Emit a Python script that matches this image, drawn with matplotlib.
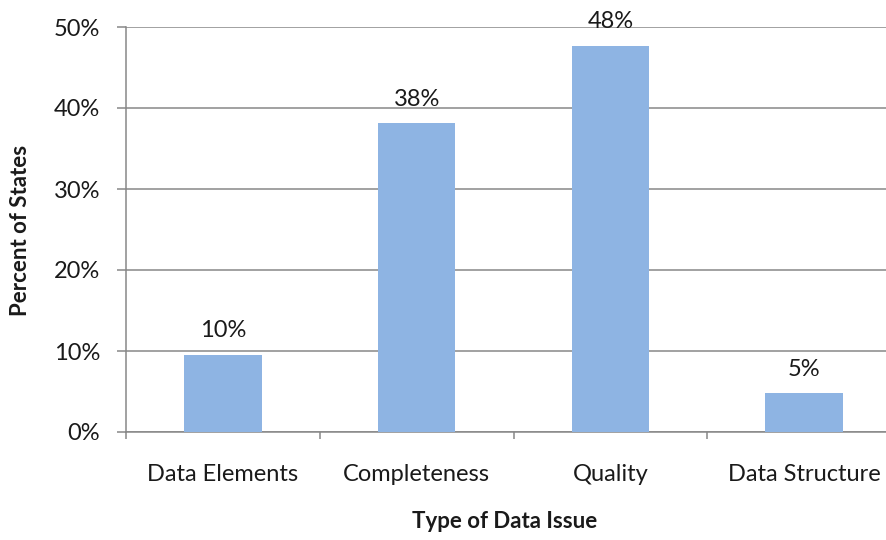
import matplotlib.pyplot as plt
from matplotlib.ticker import PercentFormatter

# states reporting each type of data issue (21 states total)
issues = ['Data Elements', 'Completeness', 'Quality', 'Data Structure']
states = [2, 8, 10, 1]
total_states = 21

pct = [s / total_states * 100 for s in states]

plt.rcParams['font.family'] = ['Lato', 'DejaVu Sans']
TXT = '#1a1a1a'
GRID = '#878787'

fig = plt.figure(figsize=(8.86, 5.4), dpi=100)
ax = fig.add_axes([126 / 886, 108 / 540, 775 / 886, 405 / 540])

x = range(len(issues))
ax.bar(x, pct, width=0.4, color='#8EB4E3', zorder=3)

for i, v in zip(x, pct):
    ax.annotate(f'{v:.0f}%', (i, v), xytext=(0, 10), textcoords='offset points',
                ha='center', va='bottom', fontsize=17, color=TXT)

ax.set_xlim(-0.5, 3.5)
ax.set_ylim(0, 50)
ax.set_yticks(range(0, 51, 10))
ax.yaxis.set_major_formatter(PercentFormatter(decimals=0))
ax.grid(axis='y', color=GRID, linewidth=1.1, zorder=0)

# category labels centred, tick marks on the boundaries
ax.set_xticks(list(x))
ax.set_xticklabels(issues)
ax.set_xticks([-0.5, 0.5, 1.5, 2.5, 3.5], minor=True)
ax.tick_params(axis='x', which='major', length=0, pad=23, labelsize=17,
               labelcolor=TXT)
ax.tick_params(axis='x', which='minor', length=5, color=GRID, width=1.1)
ax.tick_params(axis='y', length=6.5, color=GRID, width=1.1, pad=12,
               labelsize=17, labelcolor=TXT)

for side in ['top', 'right']:
    ax.spines[side].set_visible(False)
for side in ['left', 'bottom']:
    ax.spines[side].set_color(GRID)
    ax.spines[side].set_linewidth(1.1)

fig.text(21 / 886, 1 - 230 / 540, 'Percent of States', rotation=90,
         ha='center', va='center', fontsize=16, fontweight='bold', color=TXT)
fig.text(505 / 886, 1 - 522 / 540, 'Type of Data Issue', ha='center', va='center',
         fontsize=16, fontweight='bold', color=TXT)

fig.savefig('out.png', dpi=100)
